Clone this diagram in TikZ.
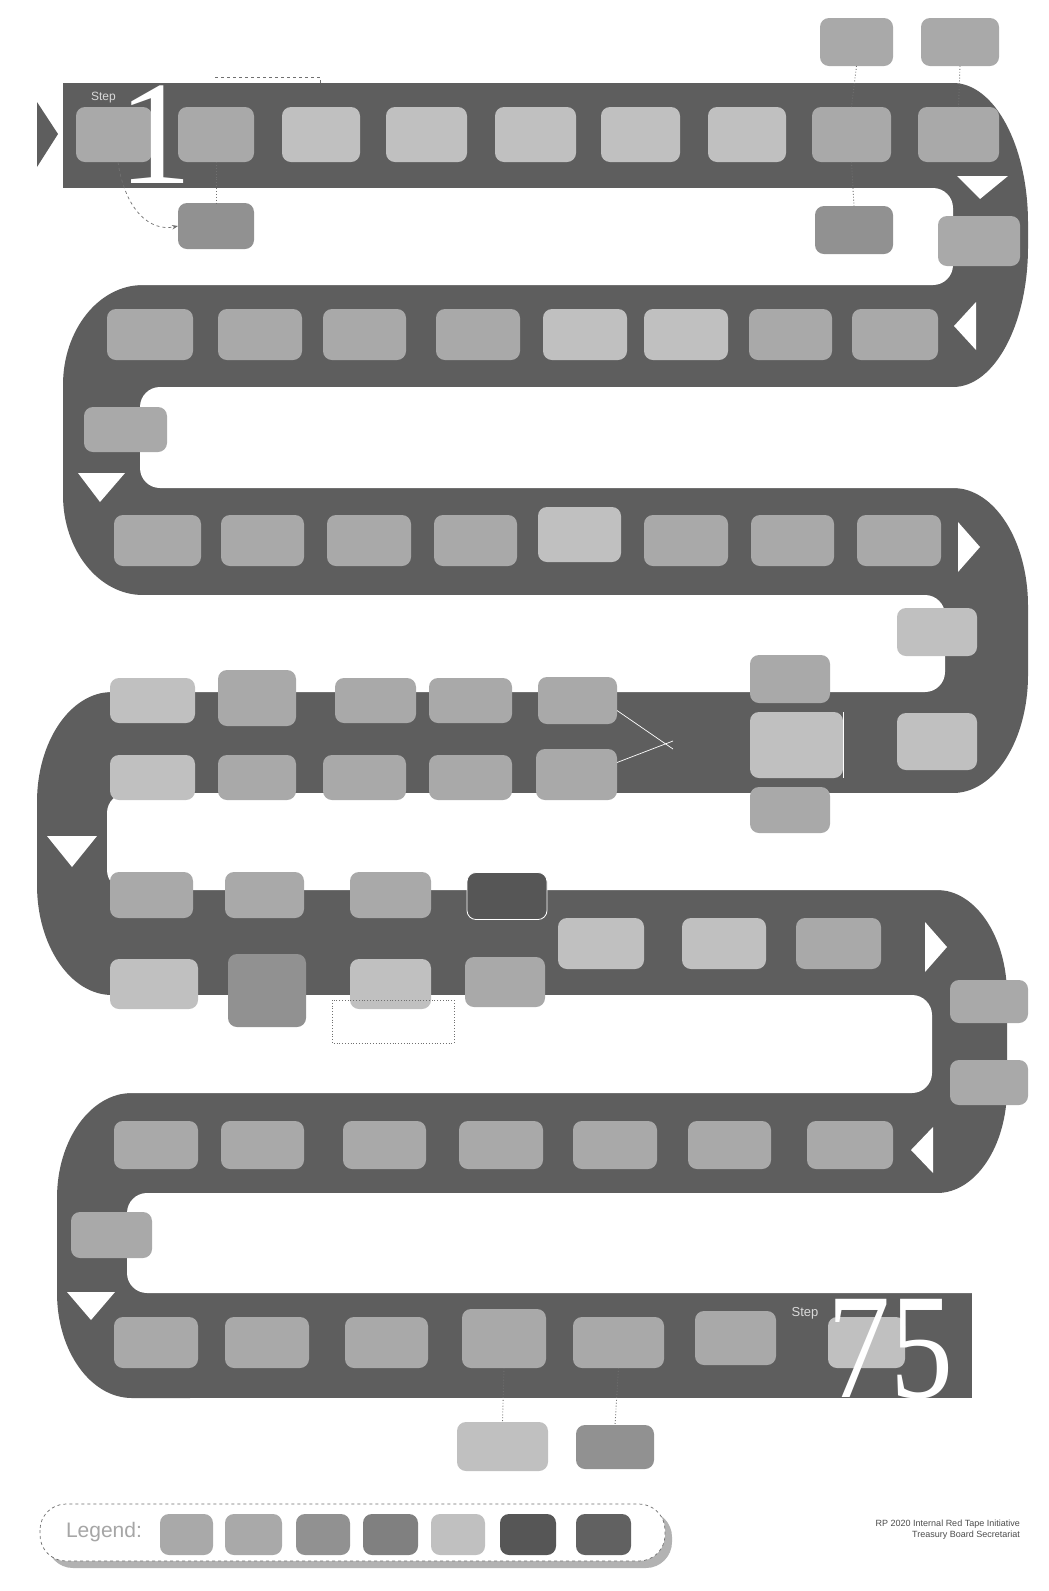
\documentclass[tikz,border=0pt]{standalone}
\usepackage{fontspec}
\usetikzlibrary{arrows.meta}
\setmainfont{Liberation Serif}
\newfontfamily\sansf{Liberation Sans}
\definecolor{road}{HTML}{5E5E5E}
\definecolor{bxm}{HTML}{A9A9A9}
\definecolor{bxl}{HTML}{C0C0C0}
\definecolor{bxd}{HTML}{919191}
\definecolor{bxk}{HTML}{565656}
\definecolor{lnk}{HTML}{707070}
\tikzset{
  bx/.style={rounded corners=9pt, inner sep=0pt, outer sep=0pt, draw=none},
  conn/.style={draw=lnk, line width=0.9pt, dotted},
  warrow/.style={fill=white, draw=none},
}
\newcommand\mbx[6]{\node[bx,fill=#6,minimum width={(#3-#2)*1pt},minimum height={(#5-#4)*1pt}] (#1) at ({(#2+#3)/2},{(#4+#5)/2}) {};}
% xs, xo, y1, y4, rx (signed), ry
\newcommand\roadturn[6]{\fill[road] (#1,#3) -- ({#2-(#5)},#3) .. controls ({#2-0.4477*(#5)},#3) and (#2,{#3+0.4477*(#6)}) .. (#2,{#3+(#6)}) -- (#2,{#4-(#6)}) .. controls (#2,{#4-0.4477*(#6)}) and ({#2-0.4477*(#5)},#4) .. ({#2-(#5)},#4) -- (#1,#4) -- cycle;}
\begin{document}
\begin{tikzpicture}[x=1pt,y=-1pt]
\useasboundingbox[fill=white] (0,0) rectangle (1049,1591);
% ---------------- road ----------------
\fill[road] (63,83) rectangle (950,188);
\fill[road] (150,285) rectangle (950,387);
\fill[road] (150,488) rectangle (950,595);
\fill[road] (120,692) rectangle (950,793);
\fill[road] (120,890) rectangle (930,995);
\fill[road] (140,1093) rectangle (930,1193);
\fill[road] (140,1293) rectangle (972,1398);
\roadturn{900}{1028}{83}{387}{75}{140}
\roadturn{200}{63}{285}{595}{-80}{100}
\roadturn{900}{1028}{488}{793}{75}{118}
\roadturn{170}{37}{692}{995}{-75}{110}
\roadturn{880}{1007}{890}{1193}{70}{105}
\roadturn{190}{57}{1093}{1398}{-75}{105}
% gaps
\fill[white,rounded corners=20pt] (-60,188) rectangle (953,285);
\fill[white,rounded corners=20pt] (140,387) rectangle (1110,488);
\fill[white,rounded corners=20pt] (-60,595) rectangle (945,692);
\fill[white,rounded corners=20pt] (107,793) rectangle (1110,890);
\fill[white,rounded corners=20pt] (-60,995) rectangle (932,1093);
\fill[white,rounded corners=20pt] (127,1193) rectangle (1110,1293);
% start arrow
\fill[road] (37,102) -- (58,134) -- (37,167) -- cycle;
% white direction arrows
\fill[warrow] (957,176) -- (1008,176) -- (980,199) -- cycle;
\fill[warrow] (954,326) -- (976,302) -- (976,350) -- cycle;
\fill[warrow] (78,473) -- (125,473) -- (100,502) -- cycle;
\fill[warrow] (958,522) -- (958,572) -- (980,547) -- cycle;
\fill[warrow] (47,836) -- (97,836) -- (72,867) -- cycle;
\fill[warrow] (925,922) -- (925,972) -- (947,947) -- cycle;
\fill[warrow] (911,1150) -- (933,1127) -- (933,1173) -- cycle;
\fill[warrow] (67,1292) -- (115,1292) -- (91,1320) -- cycle;
% ---------------- band 1 ----------------
\mbx{a1}{76}{152}{107}{162}{bxm}
\mbx{a2}{178}{254}{107}{162}{bxm}
\mbx{a3}{282}{360}{107}{162}{bxl}
\mbx{a4}{386}{467}{107}{162}{bxl}
\mbx{a5}{495}{576}{107}{162}{bxl}
\mbx{a6}{601}{680}{107}{162}{bxl}
\mbx{a7}{708}{786}{107}{162}{bxl}
\mbx{a8}{812}{891}{107}{162}{bxm}
\mbx{a9}{918}{999}{107}{162}{bxm}
\mbx{ta}{820}{893}{18}{66}{bxm}
\mbx{tb}{921}{999}{18}{66}{bxm}
\mbx{ba}{178}{254}{203}{249}{bxd}
\mbx{bb}{815}{893}{206}{254}{bxd}
\mbx{bc}{938}{1020}{216}{266}{bxm}
% ---------------- band 2 ----------------
\mbx{c1}{107}{193}{309}{360}{bxm}
\mbx{c2}{218}{302}{309}{360}{bxm}
\mbx{c3}{323}{406}{309}{360}{bxm}
\mbx{c4}{436}{520}{309}{360}{bxm}
\mbx{c5}{543}{627}{309}{360}{bxl}
\mbx{c6}{644}{728}{309}{360}{bxl}
\mbx{c7}{749}{832}{309}{360}{bxm}
\mbx{c8}{852}{938}{309}{360}{bxm}
\mbx{cb}{84}{167}{407}{452}{bxm}
% ---------------- band 3 ----------------
\mbx{d1}{114}{201}{515}{566}{bxm}
\mbx{d2}{221}{304}{515}{566}{bxm}
\mbx{d3}{327}{411}{515}{566}{bxm}
\mbx{d4}{434}{517}{515}{566}{bxm}
\mbx{d5}{538}{621}{507}{562}{bxl}
\mbx{d6}{644}{728}{515}{566}{bxm}
\mbx{d7}{751}{834}{515}{566}{bxm}
\mbx{d8}{857}{941}{515}{566}{bxm}
\mbx{db}{897}{977}{608}{656}{bxl}
% ---------------- band 4 ----------------
\mbx{e1}{110}{195}{678}{723}{bxl}
\mbx{e2}{218}{296}{670}{726}{bxm}
\mbx{e3}{335}{416}{678}{723}{bxm}
\mbx{e4}{429}{512}{678}{723}{bxm}
\mbx{e5}{538}{617}{677}{724}{bxm}
\mbx{f1}{110}{195}{755}{800}{bxl}
\mbx{f2}{218}{296}{755}{800}{bxm}
\mbx{f3}{323}{406}{755}{800}{bxm}
\mbx{f4}{429}{512}{755}{800}{bxm}
\mbx{f5}{536}{617}{749}{800}{bxm}
\mbx{r1}{750}{830}{655}{703}{bxm}
\mbx{r2}{750}{843}{712}{778}{bxl}
\mbx{r3}{750}{830}{787}{833}{bxm}
\mbx{r4}{897}{977}{713}{770}{bxl}
\draw[white,line width=0.7pt] (r2.north east) -- (r2.south east);
\coordinate (lbl) at (673,745);
\draw[white,line width=0.7pt] ([yshift=-10pt]e5.east) -- ([yshift=-4pt]lbl);
\draw[white,line width=0.7pt] ([yshift=12pt]f5.east) -- ([yshift=4pt]lbl);
% ---------------- band 5 ----------------
\mbx{g1}{110}{193}{872}{918}{bxm}
\mbx{g2}{225}{304}{872}{918}{bxm}
\mbx{g3}{350}{431}{872}{918}{bxm}
\node[bx,fill=bxk,draw=white,line width=0.8pt,minimum width=80pt,minimum height=47pt] (g4) at (507,896) {};
\mbx{h1}{110}{198}{959}{1009}{bxl}
\mbx{h2}{228}{306}{954}{1027}{bxd}
\mbx{h3}{350}{431}{959}{1009}{bxl}
\mbx{h4}{465}{545}{957}{1007}{bxm}
\mbx{g5}{558}{644}{918}{969}{bxl}
\mbx{g6}{682}{766}{918}{969}{bxl}
\mbx{g7}{796}{881}{918}{969}{bxm}
\mbx{eb1}{950}{1028}{980}{1023}{bxm}
\mbx{eb2}{950}{1028}{1060}{1105}{bxm}
\draw[lnk,dotted,line width=0.8pt] (332,1000) rectangle (454,1043);
% ---------------- band 6 ----------------
\mbx{k1}{114}{198}{1121}{1169}{bxm}
\mbx{k2}{221}{304}{1121}{1169}{bxm}
\mbx{k3}{343}{426}{1121}{1169}{bxm}
\mbx{k4}{459}{543}{1121}{1169}{bxm}
\mbx{k5}{573}{657}{1121}{1169}{bxm}
\mbx{k6}{688}{771}{1121}{1169}{bxm}
\mbx{k7}{807}{893}{1121}{1169}{bxm}
\mbx{kb}{71}{152}{1212}{1258}{bxm}
% ---------------- band 7 ----------------
\mbx{m1}{114}{198}{1317}{1368}{bxm}
\mbx{m2}{225}{309}{1317}{1368}{bxm}
\mbx{m3}{345}{428}{1317}{1368}{bxm}
\mbx{m4}{462}{546}{1309}{1368}{bxm}
\mbx{m5}{573}{664}{1317}{1368}{bxm}
\mbx{m6}{695}{776}{1311}{1365}{bxm}
\mbx{m7}{828}{905}{1317}{1368}{bxl}
\mbx{n1}{457}{548}{1422}{1471}{bxl}
\mbx{n2}{576}{654}{1425}{1469}{bxd}
% ---------------- connectors ----------------
\draw[conn] (ta.south) -- (a8.north);
\draw[conn] (tb.south) -- (a9.north);
\draw[conn] (a2.south) -- (ba.north);
\draw[conn] (a8.south) -- (bb.north);
\draw[conn] (m4.south) -- (n1.north);
\draw[conn] (m5.south) -- (n2.north);
\draw[lnk,dashed,line width=0.7pt,-{Stealth[length=6pt]}] ([xshift=4pt]a1.south) .. controls (125,210) and (150,232) .. (ba.west);
\coordinate (dl1) at (215,77);
\coordinate (dl2) at (320,77);
\coordinate (dl3) at (320,83);
\draw[lnk,dashed,line width=0.7pt] (dl1) -- (dl2) -- (dl3);
% ---------------- big numbers ----------------
\node[text=white,anchor=base,font=\fontsize{148}{148}\selectfont,inner sep=0pt] (one) at (155,183) {1};
\node[text=white!85!black,font=\sansf\fontsize{12}{12}\selectfont,inner sep=0pt,anchor=east] (st1) at (116,98) {Step};
\node[text=white,anchor=base,font=\fontsize{150}{150}\selectfont,inner sep=0pt,xscale=0.84] (sf) at (890,1397) {75};
\node[text=white!85!black,font=\sansf\fontsize{13}{13}\selectfont,inner sep=0pt] (st2) at (805,1313) {Step};
% ---------------- legend ----------------
\fill[black!30,rounded corners=26pt] (47,1511) rectangle (672,1568);
\draw[lnk,dashed,fill=white,line width=0.7pt,rounded corners=26pt] (40,1504) rectangle (665,1561);
\node[font=\sansf\fontsize{21}{21}\selectfont,text=black!35,inner sep=0pt] (lg) at (104,1532) {Legend:};
\mbx{l1}{160}{213}{1514}{1555}{bxm}
\mbx{l2}{225}{282}{1514}{1555}{bxm}
\mbx{l3}{296}{350}{1514}{1555}{bxd}
\mbx{l4}{363}{418}{1514}{1555}{black!50}
\mbx{l5}{431}{485}{1514}{1555}{bxl}
\mbx{l6}{500}{556}{1514}{1555}{bxk}
\mbx{l7}{576}{631}{1514}{1555}{black!62}
% ---------------- footer ----------------
\node[font=\sansf\fontsize{9}{11}\selectfont,text=black!70,align=right,anchor=east,inner sep=0pt] (ft) at (1020,1530) {RP 2020 Internal Red Tape Initiative\\Treasury Board Secretariat};
\end{tikzpicture}
\end{document}
